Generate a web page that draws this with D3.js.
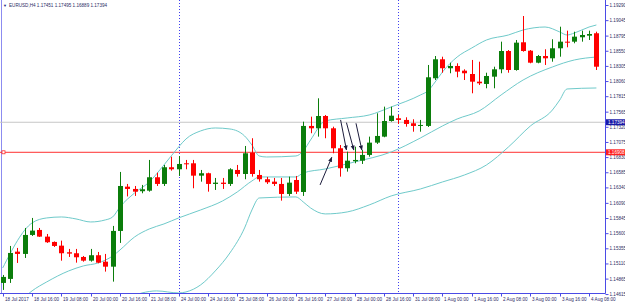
<!DOCTYPE html>
<html>
<head>
<meta charset="utf-8">
<script src="https://cdn.jsdelivr.net/npm/d3@7"></script>
<style>
  html, body { margin: 0; padding: 0; background: #fff; }
  svg { display: block; font-family: "Liberation Sans", Arial, sans-serif; }
</style>
</head>
<body>
<div id="chart"></div>
<script>
// EURUSD H4, one value per bar starting 18 Jul 2017 00:00
const titleText = "EURUSD,H4  1.17451 1.17495 1.16889 1.17394";

const opens = [1.14795, 1.14860, 1.15301, 1.15264, 1.15571, 1.15652, 1.15544, 1.15458, 1.15398, 1.15291,
  1.15275, 1.15215, 1.15155, 1.15243, 1.15139, 1.15058, 1.15636, 1.16352, 1.16315, 1.16278,
  1.16287, 1.16504, 1.16396, 1.16666, 1.16633, 1.16730, 1.16730, 1.16530, 1.16569, 1.16396,
  1.16417, 1.16396, 1.16622, 1.16557, 1.16902, 1.16541, 1.16472, 1.16433, 1.16396, 1.16234,
  1.16460, 1.16266, 1.17334, 1.17296, 1.17495, 1.17296, 1.16973, 1.16650, 1.16763, 1.16772,
  1.16865, 1.17064, 1.17161, 1.17414, 1.17458, 1.17431, 1.17377, 1.17334, 1.17334, 1.18105,
  1.18412, 1.18267, 1.18304, 1.18228, 1.18174, 1.18050, 1.18013, 1.18131, 1.18250, 1.18546,
  1.18239, 1.18687, 1.18551, 1.18357, 1.18465, 1.18428, 1.18590, 1.18697, 1.18697, 1.18768,
  1.18794, 1.18833];
const highs = [1.14924, 1.15393, 1.15361, 1.15684, 1.15846, 1.15684, 1.15587, 1.15466, 1.15479, 1.15345,
  1.15345, 1.15231, 1.15345, 1.15296, 1.15264, 1.15717, 1.16590, 1.16396, 1.16363, 1.16380,
  1.16784, 1.16578, 1.16703, 1.16837, 1.16848, 1.16784, 1.16784, 1.16622, 1.16578, 1.16493,
  1.16493, 1.16650, 1.16703, 1.17010, 1.17135, 1.16622, 1.16509, 1.16493, 1.16493, 1.16514,
  1.16525, 1.17403, 1.17484, 1.17781, 1.17511, 1.17322, 1.17026, 1.16918, 1.16999, 1.16945,
  1.17161, 1.17539, 1.17646, 1.17646, 1.17511, 1.17474, 1.17442, 1.17431, 1.18320, 1.18465,
  1.18454, 1.18357, 1.18347, 1.18250, 1.18401, 1.18373, 1.18195, 1.18292, 1.18697, 1.18562,
  1.18724, 1.19112, 1.18562, 1.18482, 1.18574, 1.18736, 1.18939, 1.18875, 1.18858, 1.18875,
  1.18875, 1.18858];
const lows = [1.14682, 1.14795, 1.15118, 1.15199, 1.15555, 1.15539, 1.15442, 1.15377, 1.15155, 1.15215,
  1.15123, 1.15139, 1.15139, 1.15113, 1.14978, 1.14816, 1.15442, 1.16194, 1.16202, 1.16245,
  1.16271, 1.16363, 1.16363, 1.16611, 1.16525, 1.16633, 1.16326, 1.16433, 1.16271, 1.16299,
  1.16315, 1.16363, 1.16514, 1.16472, 1.16514, 1.16433, 1.16396, 1.16363, 1.16126, 1.16202,
  1.16234, 1.16202, 1.17216, 1.17161, 1.17135, 1.16892, 1.16514, 1.16595, 1.16730, 1.16719,
  1.16837, 1.17043, 1.17151, 1.17403, 1.17366, 1.17322, 1.17241, 1.17241, 1.17317, 1.18077,
  1.18195, 1.18186, 1.18121, 1.18077, 1.17862, 1.17997, 1.17943, 1.17943, 1.18186, 1.18195,
  1.18228, 1.18535, 1.18347, 1.18347, 1.18320, 1.18373, 1.18454, 1.18606, 1.18671, 1.18697,
  1.18724, 1.18239];
const closes = [1.14892, 1.15280, 1.15264, 1.15571, 1.15641, 1.15544, 1.15453, 1.15393, 1.15275, 1.15269,
  1.15210, 1.15155, 1.15243, 1.15123, 1.15058, 1.15636, 1.16363, 1.16315, 1.16271, 1.16310,
  1.16504, 1.16396, 1.16666, 1.16633, 1.16719, 1.16714, 1.16530, 1.16569, 1.16396, 1.16417,
  1.16396, 1.16633, 1.16557, 1.16892, 1.16557, 1.16472, 1.16423, 1.16396, 1.16234, 1.16417,
  1.16271, 1.17334, 1.17296, 1.17495, 1.17296, 1.16973, 1.16650, 1.16772, 1.16784, 1.16865,
  1.17064, 1.17172, 1.17414, 1.17500, 1.17431, 1.17366, 1.17334, 1.17350, 1.18121, 1.18412,
  1.18267, 1.18304, 1.18212, 1.18186, 1.18050, 1.18024, 1.18142, 1.18250, 1.18546, 1.18239,
  1.18681, 1.18546, 1.18357, 1.18465, 1.18428, 1.18590, 1.18697, 1.18681, 1.18778, 1.18805,
  1.18821, 1.18292];

// Bollinger bands as [bar, price]
const upperBand = [[0, 1.15037], [4, 1.15765], [6, 1.15846], [8, 1.15862], [10, 1.15830], [12, 1.15781],
  [14, 1.15814], [15, 1.15862], [16, 1.16024], [18, 1.16250], [20, 1.16428], [22, 1.16703],
  [24, 1.16994], [25, 1.17123], [27, 1.17253], [29, 1.17301], [31, 1.17285], [33, 1.17172],
  [34, 1.17026], [35, 1.16848], [36, 1.16832], [40, 1.16848], [41, 1.16929], [42, 1.17107],
  [44, 1.17414], [47, 1.17463], [50, 1.17511], [53, 1.17641], [57, 1.17835], [58, 1.17900],
  [59, 1.18045], [60, 1.18207], [62, 1.18449], [64, 1.18595], [66, 1.18724], [69, 1.18805],
  [71, 1.18886], [74, 1.18934], [76, 1.18854], [77, 1.18805], [78, 1.18837], [80, 1.18934], [81, 1.18967]];
const middleBand = [[3, 1.14569], [4, 1.14666], [6, 1.14811], [9, 1.14989], [11, 1.15070], [13, 1.15118],
  [15, 1.15231], [16, 1.15328], [18, 1.15539], [20, 1.15668], [22, 1.15749], [24, 1.15846],
  [27, 1.15975], [30, 1.16121], [32, 1.16266], [34, 1.16444], [35, 1.16509], [40, 1.16509],
  [41, 1.16574], [44, 1.16638], [48, 1.16751], [53, 1.16913], [57, 1.17140], [60, 1.17334],
  [62, 1.17447], [65, 1.17576], [68, 1.17835], [71, 1.18077], [75, 1.18288], [78, 1.18401], [81, 1.18449]];
const lowerBand = [[17, 1.14552], [19, 1.14633], [21, 1.14666], [24, 1.14633], [25, 1.14649], [27, 1.14763],
  [29, 1.14989], [31, 1.15280], [33, 1.15684], [34, 1.15975], [35, 1.16169], [40, 1.16186],
  [41, 1.16105], [42, 1.16008], [44, 1.15911], [47, 1.15943], [50, 1.16056], [53, 1.16202],
  [57, 1.16315], [60, 1.16428], [63, 1.16541], [66, 1.16703], [69, 1.16994], [72, 1.17334],
  [75, 1.17592], [76, 1.17754], [77, 1.17932], [81, 1.17948]];

// hand-drawn arrows [bar, price] -> [bar, price]
const arrows = [
  [[43.3, 1.16380], [44.9, 1.16827]],
  [[46.1, 1.17431], [46.9, 1.16945]],
  [[46.9, 1.17387], [47.9, 1.16945]],
  [[48.2, 1.17377], [49.0, 1.16945]]
];

const bidPrice = 1.17394;
const levelPrice = 1.16908;
const separatorBars = [24, 54];

const priceTicks = [1.19290, 1.19045, 1.18795, 1.18550, 1.18305, 1.18060, 1.17815, 1.17565, 1.17320, 1.17075,
  1.16830, 1.16585, 1.16340, 1.16090, 1.15845, 1.15600, 1.15355, 1.15110, 1.14865, 1.14615];
const timeLabels = ["18 Jul 2017", "18 Jul 16:00", "19 Jul 08:00", "20 Jul 00:00", "20 Jul 16:00",
  "21 Jul 08:00", "24 Jul 00:00", "24 Jul 16:00", "25 Jul 08:00", "26 Jul 00:00", "26 Jul 16:00",
  "27 Jul 08:00", "28 Jul 00:00", "28 Jul 16:00", "31 Jul 08:00", "1 Aug 00:00", "1 Aug 16:00",
  "2 Aug 08:00", "3 Aug 00:00", "3 Aug 16:00", "4 Aug 08:00"];
const labelEvery = 4;

const width = 625, height = 305;
const plotRight = 605, plotBottom = 293;
const axisColor = "#4b4be6";
const textColor = "#2c2c66";

const svg = d3.select("#chart").append("svg")
  .attr("width", width)
  .attr("height", height);

const x = d3.scaleLinear().domain([0, opens.length - 1]).range([2.7, 596.4]);
const y = d3.scaleLinear().domain([1.14616, 1.19290]).range([294, 5]);
const px = i => Math.round(x(i));

svg.append("clipPath").attr("id", "plot")
  .append("rect").attr("x", 0).attr("y", 0).attr("width", plotRight).attr("height", plotBottom);

const plot = svg.append("g").attr("clip-path", "url(#plot)");

// left frame line
plot.append("line")
  .attr("x1", 1.5).attr("x2", 1.5).attr("y1", 0).attr("y2", plotBottom)
  .style("stroke", "#8c8cf0").style("stroke-width", 1);

// week separators
plot.selectAll(".sep")
  .data(separatorBars)
  .enter()
  .append("line")
  .attr("class", "sep")
  .attr("x1", d => px(d) + 0.5).attr("x2", d => px(d) + 0.5)
  .attr("y1", 0).attr("y2", plotBottom)
  .style("stroke", "#4040f0")
  .style("stroke-width", 1)
  .style("stroke-dasharray", "1,2");

// bid line and horizontal level
plot.append("line")
  .attr("x1", 0).attr("x2", plotRight)
  .attr("y1", y(bidPrice)).attr("y2", y(bidPrice))
  .style("stroke", "#c6c6c6").style("stroke-width", 1.2);

plot.append("line")
  .attr("x1", 0).attr("x2", plotRight)
  .attr("y1", y(levelPrice)).attr("y2", y(levelPrice))
  .style("stroke", "#ff3030").style("stroke-width", 1);

plot.append("rect")
  .attr("x", 2).attr("y", y(levelPrice) - 1.5)
  .attr("width", 3).attr("height", 3)
  .style("fill", "#fff").style("stroke", "#ff3030").style("stroke-width", 0.8);

// bands
const bandLine = d3.line()
  .x(d => x(d[0]))
  .y(d => y(d[1]))
  .curve(d3.curveMonotoneX);

plot.selectAll(".band")
  .data([upperBand, middleBand, lowerBand])
  .enter()
  .append("path")
  .attr("class", "band")
  .attr("d", bandLine)
  .style("fill", "none")
  .style("stroke", "#6fcaca")
  .style("stroke-width", 1);

// candles
const bars = d3.range(opens.length);
const candle = plot.selectAll(".candle")
  .data(bars)
  .enter()
  .append("g")
  .attr("class", "candle");

const colorOf = i => closes[i] >= opens[i] ? "#0b7d0b" : "#ff0000";

candle.append("line")
  .attr("x1", i => px(i) + 0.5).attr("x2", i => px(i) + 0.5)
  .attr("y1", i => y(highs[i])).attr("y2", i => y(lows[i]))
  .style("stroke", colorOf)
  .style("stroke-width", 1);

candle.append("rect")
  .attr("x", i => px(i) - 2)
  .attr("width", 5)
  .attr("y", i => y(Math.max(opens[i], closes[i])))
  .attr("height", i => Math.max(1, Math.abs(y(opens[i]) - y(closes[i]))))
  .style("fill", colorOf);

// arrows
svg.append("defs").append("marker")
  .attr("id", "head")
  .attr("viewBox", "0 0 10 10")
  .attr("refX", 9).attr("refY", 5)
  .attr("markerWidth", 5).attr("markerHeight", 5)
  .attr("orient", "auto")
  .append("path").attr("d", "M0,1L10,5L0,9Z").style("fill", "#1c1c3c");

plot.selectAll(".arrow")
  .data(arrows)
  .enter()
  .append("line")
  .attr("class", "arrow")
  .attr("x1", d => x(d[0][0])).attr("y1", d => y(d[0][1]))
  .attr("x2", d => x(d[1][0])).attr("y2", d => y(d[1][1]))
  .style("stroke", "#1c1c3c")
  .style("stroke-width", 1)
  .attr("marker-end", "url(#head)");

// axes frame
svg.append("line")
  .attr("x1", plotRight + 0.5).attr("x2", plotRight + 0.5)
  .attr("y1", 0).attr("y2", plotBottom + 0.5)
  .style("stroke", axisColor).style("stroke-width", 1);
svg.append("line")
  .attr("x1", 0).attr("x2", plotRight + 0.5)
  .attr("y1", plotBottom + 0.5).attr("y2", plotBottom + 0.5)
  .style("stroke", axisColor).style("stroke-width", 1);

// price axis
const yAxis = svg.append("g")
  .attr("transform", `translate(${plotRight + 0.5},0)`)
  .call(d3.axisRight(y).tickValues(priceTicks).tickSize(3).tickPadding(1).tickFormat(d3.format(".5f")));
yAxis.select(".domain").remove();
yAxis.selectAll("line").style("stroke", axisColor);
yAxis.selectAll("text")
  .style("font-size", "4.6px")
  .style("fill", textColor);

// time axis
const xAxis = svg.append("g")
  .attr("transform", `translate(0,${plotBottom + 0.5})`)
  .call(d3.axisBottom(x)
    .tickValues(timeLabels.map((d, i) => i * labelEvery))
    .tickSize(3)
    .tickFormat((d, i) => timeLabels[i]));
xAxis.select(".domain").remove();
xAxis.selectAll(".tick")
  .attr("transform", d => `translate(${px(d) + 0.5},0)`);
xAxis.selectAll("line").style("stroke", axisColor);
xAxis.selectAll("text")
  .attr("y", 6)
  .attr("x", 1.5)
  .attr("dy", "0.32em")
  .style("text-anchor", "start")
  .style("font-size", "4.6px")
  .style("fill", textColor);

// price flags on the axis
const flags = [[bidPrice, "#1a1aa8"], [levelPrice, "#ff2020"]];
flags.forEach(([p, c]) => {
  svg.append("rect")
    .attr("x", plotRight + 1).attr("y", y(p) - 3)
    .attr("width", 19).attr("height", 6)
    .style("fill", c);
  svg.append("text")
    .attr("x", plotRight + 3).attr("y", y(p))
    .attr("dy", "0.35em")
    .style("font-size", "4.6px")
    .style("fill", "#fff")
    .text(d3.format(".5f")(p));
});

// title
svg.append("text")
  .attr("x", 3).attr("y", 6)
  .attr("dy", "0.32em")
  .style("font-size", "4px")
  .style("fill", "#1a1a80")
  .text("▼");
svg.append("text")
  .attr("x", 9).attr("y", 6)
  .attr("dy", "0.32em")
  .style("font-size", "4.6px")
  .style("fill", textColor)
  .text(titleText);
</script>
</body>
</html>
